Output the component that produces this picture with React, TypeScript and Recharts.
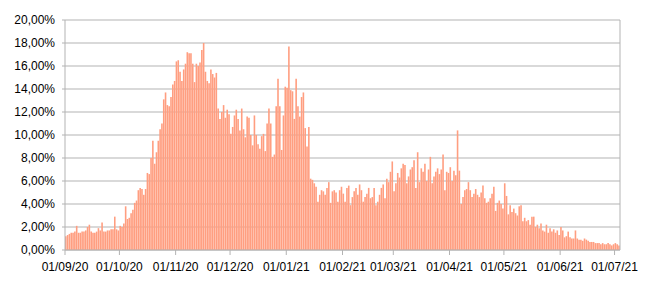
import React from 'react';
import { BarChart, Bar, XAxis, YAxis, CartesianGrid, ReferenceLine } from 'recharts';

// Daily rate (%), one array per month, starting 01/09/20
const SEP = [1.2, 1.3, 1.4, 1.5, 1.5, 1.6, 2.1, 1.5, 1.5, 1.6, 1.6, 1.7, 2.0, 2.2, 1.6, 1.5, 1.5, 1.6, 1.9, 1.7, 2.4, 1.6, 1.6, 1.7, 1.7, 1.8, 1.8, 2.9, 1.8, 1.7];
const OCT = [2.1, 2.0, 2.3, 3.8, 2.7, 2.8, 3.2, 3.5, 4.1, 4.3, 5.2, 5.4, 5.3, 4.8, 5.3, 6.7, 6.6, 8.0, 9.5, 7.5, 8.5, 9.5, 10.5, 11.0, 13.1, 13.7, 12.6, 12.5, 13.3, 14.4, 14.7];
const NOV = [16.4, 16.5, 15.5, 14.7, 15.7, 16.2, 17.2, 17.1, 17.1, 16.2, 14.6, 16.2, 16.0, 16.3, 17.4, 18.0, 15.5, 14.7, 14.5, 15.7, 15.3, 15.0, 15.4, 12.3, 11.4, 12.0, 12.6, 11.5, 12.2, 11.8];
const DEC = [10.1, 10.7, 11.7, 12.2, 11.4, 10.4, 12.3, 10.5, 9.8, 11.6, 11.5, 10.0, 9.1, 11.7, 10.0, 9.2, 8.8, 9.9, 10.1, 8.6, 11.0, 12.3, 11.0, 8.1, 8.3, 12.5, 14.9, 12.5, 8.7, 11.7, 14.2];
const JAN = [14.1, 17.7, 13.9, 13.8, 11.4, 14.9, 12.5, 11.6, 13.3, 13.7, 10.6, 9.0, 10.7, 6.2, 6.1, 5.8, 5.5, 4.2, 4.8, 5.2, 5.1, 4.8, 5.4, 5.9, 4.1, 5.1, 5.2, 5.0, 4.2, 5.2, 5.5];
const FEB = [4.9, 4.2, 5.4, 5.6, 3.9, 4.6, 5.1, 5.4, 4.8, 5.7, 5.2, 4.2, 4.6, 4.9, 5.4, 4.5, 4.6, 5.4, 3.9, 4.2, 4.8, 5.4, 5.7, 4.5, 6.2, 5.9, 6.8, 7.7];
const MAR = [5.1, 5.8, 6.7, 6.3, 7.1, 7.5, 7.4, 5.8, 6.4, 7.0, 7.2, 7.8, 5.4, 8.5, 5.9, 7.1, 6.8, 7.5, 6.0, 7.0, 8.1, 5.8, 6.4, 6.8, 7.1, 6.6, 7.0, 8.3, 5.2, 6.8, 6.7];
const APR = [7.2, 6.0, 6.9, 6.5, 10.4, 6.9, 4.0, 4.6, 5.2, 5.3, 5.9, 5.2, 4.6, 4.9, 5.3, 4.8, 4.6, 5.0, 5.6, 4.5, 4.1, 4.2, 4.5, 4.9, 5.5, 3.4, 4.1, 4.3, 4.0, 3.6];
const MAY = [5.8, 4.7, 3.1, 3.9, 3.3, 3.6, 3.2, 3.0, 3.8, 3.9, 2.5, 2.8, 2.5, 2.6, 2.2, 2.9, 2.9, 2.0, 2.2, 1.9, 2.3, 1.7, 1.6, 2.2, 1.5, 1.9, 1.6, 1.8, 1.5, 1.7, 1.3];
const JUN = [2.0, 1.7, 1.1, 1.2, 1.6, 1.1, 1.0, 1.0, 1.7, 1.0, 0.9, 0.9, 0.8, 1.0, 0.9, 0.8, 0.7, 0.7, 0.7, 0.6, 0.6, 0.6, 0.5, 0.6, 0.5, 0.5, 0.6, 0.5, 0.4, 0.5];
const JUL = [0.6, 0.5, 0.4];

const MONTHS = [SEP, OCT, NOV, DEC, JAN, FEB, MAR, APR, MAY, JUN, JUL];
const TICK_LABELS = ['01/09/20', '01/10/20', '01/11/20', '01/12/20', '01/01/21', '01/02/21', '01/03/21', '01/04/21', '01/05/21', '01/06/21', '01/07/21'];
const Y_TICKS = [0, 2, 4, 6, 8, 10, 12, 14, 16, 18, 20];

const VALUES = MONTHS.flat();
const N = VALUES.length;

// month start positions on the day axis
const MONTH_STARTS: number[] = [];
MONTHS.reduce((acc, m) => {
  MONTH_STARTS.push(acc);
  return acc + m.length;
}, 0);

const data = VALUES.map((v, i) => ({ day: i + 0.5, rate: v }));

const GRID = '#b3b3b3';
const FONT = { fill: '#000', fontSize: 12, fontFamily: 'Liberation Sans, Arial, sans-serif' };

const fmtPct = (v: number) => v.toFixed(2).replace('.', ',') + '%';
const fmtDate = (v: number) => TICK_LABELS[MONTH_STARTS.indexOf(v)] ?? '';

export default function App() {
  return (
    <div style={{ position: 'absolute', left: 0, top: 0, background: '#fff' }}>
      <BarChart width={650} height={287} data={data} margin={{ top: 20, right: 30, bottom: 7, left: 0 }}>
        <CartesianGrid vertical={false} stroke={GRID} />
        <XAxis
          type="number"
          dataKey="day"
          domain={[0, N]}
          ticks={MONTH_STARTS}
          interval={0}
          tickFormatter={fmtDate}
          stroke={GRID}
          tick={FONT}
          tickSize={5}
          tickMargin={7}
          height={30}
        />
        <YAxis
          domain={[0, 20]}
          ticks={Y_TICKS}
          interval={0}
          tickFormatter={fmtPct}
          stroke={GRID}
          tick={FONT}
          tickSize={3}
          tickMargin={7}
          width={65}
        />
        <ReferenceLine x={N} stroke={GRID} />
        <Bar dataKey="rate" fill="#ff9e80" barSize={1.6} isAnimationActive={false} />
      </BarChart>
    </div>
  );
}
